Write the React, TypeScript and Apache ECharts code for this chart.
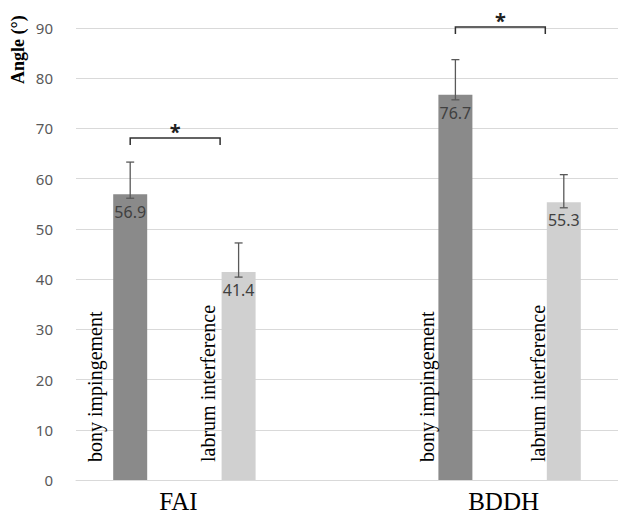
import React, { useEffect, useRef } from 'react';
import * as echarts from 'echarts';

// ---- data ----
const groups = ['FAI', 'BDDH'];
const conditions = ['bony impingement', 'labrum interference'];
const faiMeans = [56.9, 41.4];
const bddhMeans = [76.7, 55.3];
const faiErrHigh = [63.3, 47.2];
const faiErrLow = [56.1, 40.4];
const bddhErrHigh = [83.7, 60.8];
const bddhErrLow = [75.7, 54.2];
const bracketLevels = [68.1, 90.2];
const significance = ['*', '*'];
const yMin = 0;
const yMax = 90;
const yStep = 10;
const yAxisTitle = 'Angle (°)';

// ---- styles ----
const conditionColors = ['#8a8a8a', '#d0d0d0'];
const BAR_W = 34;
const condLabelShift = [-35, -31, -28, -26]; // px, left of each bar centre

const means = [faiMeans, bddhMeans];
const highs = [faiErrHigh, bddhErrHigh];
const lows = [faiErrLow, bddhErrLow];

type Slot = { group: number; cond: number } | null;
const slots: Slot[] = [];
groups.forEach((_, gi) => {
  if (gi > 0) slots.push(null);
  conditions.forEach((_c, ci) => slots.push({ group: gi, cond: ci }));
});
const slotNames = slots.map((s, i) => (s ? `${groups[s.group]} ${conditions[s.cond]}` : `gap${i}`));
const slotIndex = (g: number, c: number) => slots.findIndex((s) => s && s.group === g && s.cond === c);

export default function App() {
  const ref = useRef<HTMLDivElement>(null);
  useEffect(() => {
    if (!ref.current) return;
    const chart = echarts.init(ref.current, null, { renderer: 'svg' });

    const barData = slots.map((s) =>
      s ? { value: means[s.group][s.cond], itemStyle: { color: conditionColors[s.cond] } } : '-'
    );
    const errData: number[][] = [];
    const condLabelData: number[][] = [];
    let k = 0;
    slots.forEach((s, i) => {
      if (!s) return;
      errData.push([i, lows[s.group][s.cond], highs[s.group][s.cond]]);
      condLabelData.push([i, 0, s.cond, condLabelShift[k++]]);
    });
    const bracketData = groups.map((_, gi) => [slotIndex(gi, 0), slotIndex(gi, 1), bracketLevels[gi], gi]);
    const groupLabelData = groups.map((_, gi) => [slotIndex(gi, 0), slotIndex(gi, 1), 0, gi]);

    const errStyle = { stroke: '#595959', lineWidth: 1.3 };
    const brStyle = { stroke: '#303030', lineWidth: 1.5, fill: 'none' };

    chart.setOption({
      animation: false,
      backgroundColor: '#ffffff',
      grid: { left: 76, right: -5, top: 28, bottom: 45, containLabel: false },
      xAxis: {
        type: 'category',
        data: slotNames,
        axisLine: { show: true, lineStyle: { color: '#d9d9d9', width: 1 } },
        axisTick: { show: false },
        axisLabel: { show: false },
        splitLine: { show: false },
      },
      yAxis: {
        type: 'value',
        min: yMin,
        max: yMax,
        interval: yStep,
        axisLine: { show: false },
        axisTick: { show: false },
        splitLine: { lineStyle: { color: '#d9d9d9', width: 1 } },
        axisLabel: { color: '#595959', fontSize: 15, fontFamily: 'Noto Sans', margin: 23 },
      },
      graphic: [
        {
          type: 'text',
          x: 18,
          y: 84,
          rotation: Math.PI / 2,
          style: {
            text: yAxisTitle,
            fontFamily: 'Liberation Serif',
            fontSize: 18,
            fontWeight: 'bold',
            fill: '#000',
            align: 'left',
            verticalAlign: 'middle',
          },
        },
      ],
      series: [
        {
          type: 'bar',
          data: barData,
          barWidth: BAR_W,
          label: {
            show: true,
            position: 'insideTop',
            distance: 10,
            color: '#404040',
            fontSize: 16,
            fontFamily: 'Noto Sans',
            formatter: (p: any) => Number(p.value).toFixed(1),
          },
          z: 2,
        },
        {
          type: 'custom',
          data: errData,
          encode: { x: 0, y: [1, 2] },
          z: 5,
          renderItem: (_params: any, api: any) => {
            const x = api.value(0);
            const lo = api.coord([x, api.value(1)]);
            const hi = api.coord([x, api.value(2)]);
            const c = 4;
            return {
              type: 'group',
              children: [
                { type: 'line', shape: { x1: hi[0], y1: hi[1], x2: lo[0], y2: lo[1] }, style: errStyle },
                { type: 'line', shape: { x1: hi[0] - c, y1: hi[1], x2: hi[0] + c, y2: hi[1] }, style: errStyle },
                { type: 'line', shape: { x1: lo[0] - c, y1: lo[1], x2: lo[0] + c, y2: lo[1] }, style: errStyle },
              ],
            };
          },
        },
        {
          type: 'custom',
          data: condLabelData,
          encode: { x: 0, y: 1 },
          z: 5,
          renderItem: (_params: any, api: any) => {
            const p = api.coord([api.value(0), api.value(1)]);
            return {
              type: 'text',
              x: p[0] + api.value(3),
              y: p[1] - 18,
              rotation: Math.PI / 2,
              style: {
                text: conditions[api.value(2)],
                fontFamily: 'Liberation Serif',
                fontSize: 20,
                fill: '#000',
                align: 'left',
                verticalAlign: 'middle',
              },
            };
          },
        },
        {
          type: 'custom',
          data: bracketData,
          encode: { x: [0, 1], y: 2 },
          z: 5,
          renderItem: (_params: any, api: any) => {
            const a = api.coord([api.value(0), api.value(2)]);
            const b = api.coord([api.value(1), api.value(2)]);
            const x0 = a[0];
            const x1 = b[0] - BAR_W / 2 - 1.5;
            const y = a[1];
            const drop = 7;
            return {
              type: 'group',
              children: [
                {
                  type: 'polyline',
                  shape: { points: [[x0, y + drop], [x0, y], [x1, y], [x1, y + drop]] },
                  style: brStyle,
                },
                {
                  type: 'text',
                  x: (x0 + x1) / 2,
                  y: y - 6,
                  style: {
                    text: significance[api.value(3)],
                    fontFamily: 'Noto Sans',
                    fontSize: 20,
                    fontWeight: 'bold',
                    fill: '#202020',
                    align: 'center',
                    verticalAlign: 'middle',
                  },
                },
              ],
            };
          },
        },
        {
          type: 'custom',
          data: groupLabelData,
          encode: { x: [0, 1], y: 2 },
          z: 5,
          clip: false,
          renderItem: (_params: any, api: any) => {
            const a = api.coord([api.value(0), api.value(2)]);
            const b = api.coord([api.value(1), api.value(2)]);
            return {
              type: 'text',
              x: (a[0] + b[0]) / 2 - 6,
              y: a[1] + 21,
              style: {
                text: groups[api.value(3)],
                fontFamily: 'Liberation Serif',
                fontSize: 25,
                fill: '#000',
                align: 'center',
                verticalAlign: 'middle',
              },
            };
          },
        },
      ],
    });
    return () => chart.dispose();
  }, []);
  return (
    <div
      ref={ref}
      style={{ position: 'fixed', left: 0, top: 0, width: 618, height: 525, background: '#fff' }}
    />
  );
}
